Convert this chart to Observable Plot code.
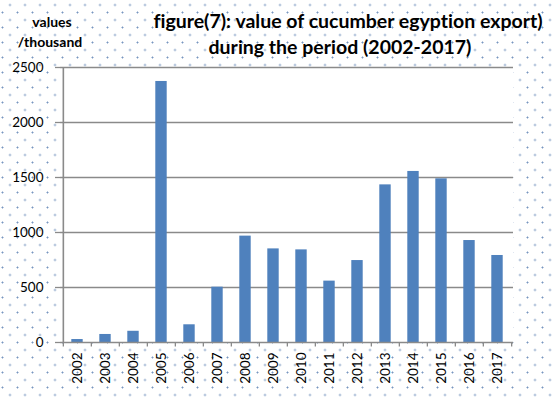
<!DOCTYPE html>
<html><head><meta charset="utf-8">
<script src="https://cdn.jsdelivr.net/npm/d3@7"></script>
<script src="https://cdn.jsdelivr.net/npm/@observablehq/plot@0.6"></script>
<style>
body{margin:0;}
#chart{position:relative;width:555px;height:401px;background-color:#fff;
background-image:radial-gradient(circle, #7896c0 0.75px, rgba(255,255,255,0) 1.25px), radial-gradient(circle, #7896c0 0.75px, rgba(255,255,255,0) 1.25px);
background-size:15px 15px;background-position:2.5px -2.5px, 10px 5px;font-family:Lato, "Open Sans", sans-serif;}
#chart svg{position:absolute;left:0;top:0;}
.t{position:absolute;font-weight:bold;color:#000;white-space:nowrap;text-align:center;transform:translateX(-50%);z-index:2;font-variant-ligatures:none;}
</style></head>
<body>
<div id="chart">
  <div class="t" id="t1" style="left:348px;top:9px;font-size:19.5px;">figure(7): value of cucumber egyption export)</div>
  <div class="t" id="t2" style="left:340px;top:35px;font-size:19.5px;">during the period (2002-2017)</div>
  <div class="t" id="u1" style="left:52px;top:13px;font-size:14px;">values</div>
  <div class="t" id="u2" style="left:50px;top:33px;font-size:14px;">/thousand</div>
</div>
<script>
const years = ["2002","2003","2004","2005","2006","2007","2008","2009","2010","2011","2012","2013","2014","2015","2016","2017"];
const values = [27, 73, 102, 2373, 161, 503, 967, 851, 842, 558, 745, 1433, 1555, 1488, 927, 791];
const yTicks = [0, 500, 1000, 1500, 2000, 2500];

const data = years.map((y, i) => ({year: y, value: values[i]}));
const W = 555, H = 401, mL = 60, mR = 42, mT = 67, mB = 59;
const step = (W - mL - mR) / years.length;
const grey = "#8a8a8a";

const plot = Plot.plot({
  width: W, height: H,
  marginLeft: mL, marginRight: mR, marginTop: mT, marginBottom: mB,
  style: {background: "transparent", fontFamily: "Lato, 'Open Sans', sans-serif", fontSize: "13px", color: "#000"},
  x: {domain: years, padding: 0, label: null},
  y: {domain: [0, 2500], label: null},
  marks: [
    Plot.frame({fill: "white", stroke: "none"}),
    Plot.ruleY(yTicks.filter(d => d > 0), {stroke: grey, strokeWidth: 1.6}),
    Plot.barY(data, {x: "year", y: "value", fill: "#4f81bd", insetLeft: 8.3, insetRight: 8.3}),
    Plot.ruleX(years, {x: d => d, y1: 0, y2: -42, dx: -step / 2, stroke: grey, strokeWidth: 1.3}),
    Plot.ruleX([years[years.length - 1]], {x: d => d, y1: 0, y2: -42, dx: step / 2, stroke: grey, strokeWidth: 1.3}),
    Plot.ruleY([0], {stroke: grey, strokeWidth: 1.6}),
    Plot.axisY({ticks: yTicks, tickSize: 5, tickPadding: 12, stroke: grey, strokeWidth: 1.3, fontSize: 13.5, tickFormat: d => String(d)}),
    Plot.ruleX([years[0]], {x: d => d, dx: -step / 2, y1: 0, y2: 2500, stroke: grey, strokeWidth: 1.6}),
    Plot.axisX({tickSize: 0, tickPadding: 10, tickRotate: -90, fontSize: 13.5})
  ]
});
document.getElementById("chart").appendChild(plot);
</script>
</body></html>
